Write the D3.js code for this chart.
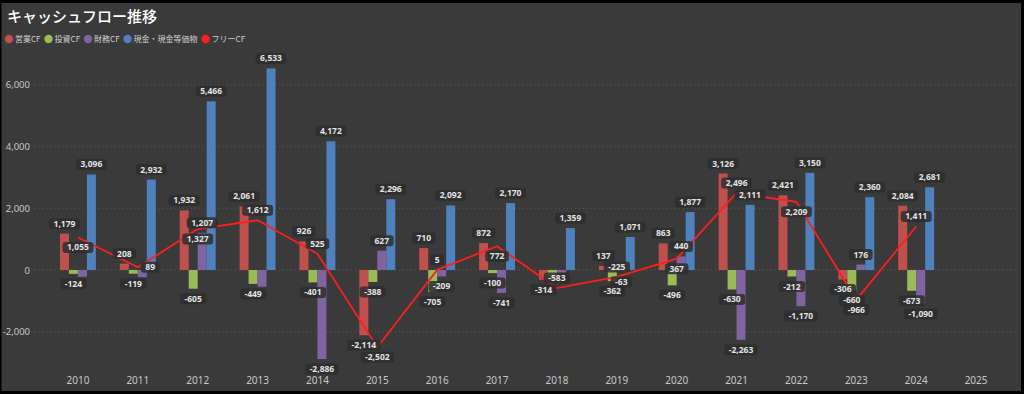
<!DOCTYPE html>
<html>
<head>
<meta charset="utf-8">
<script src="https://cdn.jsdelivr.net/npm/d3@7"></script>
<style>
  html, body { margin: 0; padding: 0; background: #000; }
  #svg-container { width: 1024px; height: 394px; }
  text { font-family: "Noto Sans CJK JP", "Noto Sans", sans-serif; }
</style>
</head>
<body>
<div id="svg-container"></div>
<script>
//////////////////////////////  Data  //////////////////////////////
const years = ["2010", "2011", "2012", "2013", "2014", "2015", "2016", "2017",
  "2018", "2019", "2020", "2021", "2022", "2023", "2024", "2025"];
const opCF = [1179, 208, 1932, 2061, 926, -2114, 710, 872, -314, 137, 863, 3126, 2421, -306, 2084, null];
const invCF = [-124, -119, -605, -449, -401, -388, -705, -100, -269, -362, -496, -630, -212, -660, -673, null];
const finCF = [-220, -230, 1207, -540, -2886, 627, -209, -741, -90, -63, 440, -2263, -1170, 176, -1090, null];
const cash = [3096, 2932, 5466, 6533, 4172, 2296, 2092, 2170, 1359, 1071, 1877, 2111, 3150, 2360, 2681, null];
const freeCF = [1055, 89, 1327, 1612, 525, -2502, 5, 772, -583, -225, 367, 2496, 2209, -966, 1411, null];
const yTicks = [-2000, 0, 2000, 4000, 6000];

const barSeries = [
  { key: "op", name: "営業CF", values: opCF, color: "#C0504D" },
  { key: "inv", name: "投資CF", values: invCF, color: "#9BBB59" },
  { key: "fin", name: "財務CF", values: finCF, color: "#8064A2" },
  { key: "cash", name: "現金・現金等価物", values: cash, color: "#4F81BD" },
];
const lineSeries = { name: "フリーCF", values: freeCF, color: "#FF1E1E" };

//////////////////////////////  Init  //////////////////////////////
const width = 1024;
const height = 394;
const margin = { top: 54, right: 18, bottom: 31, left: 48 };

const svg = d3.select("#svg-container").append("svg")
  .attr("width", width).attr("height", height);

const fmt = d3.formatLocale({ decimal: ".", thousands: ",", grouping: [3], currency: ["", ""], minus: "-" }).format(",");

// background panel
svg.append("rect")
  .attr("x", 1.5).attr("y", 3).attr("width", 1019.5).attr("height", 388)
  .attr("fill", "#3a3a3a");

// scales
const xScale = d3.scaleBand().domain(years)
  .range([margin.left, width - margin.right])
  .paddingInner(0.4).paddingOuter(0.2);
const xInner = d3.scaleBand().domain(barSeries.map((s) => s.key))
  .range([0, xScale.bandwidth()]);
const yScale = d3.scaleLinear().domain([-3000, 7000])
  .range([height - margin.bottom - 0.4, margin.top]);

// title & legend
svg.append("text").attr("x", 7).attr("y", 22)
  .attr("fill", "#fff").attr("font-size", 15).attr("font-weight", 500)
  .text("キャッシュフロー推移");

const legendItems = barSeries.map((s) => ({ name: s.name, color: s.color }))
  .concat([{ name: lineSeries.name, color: lineSeries.color }]);
let lx = 9;
legendItems.forEach((item) => {
  const g = svg.append("g").attr("transform", `translate(${lx},39)`);
  g.append("circle").attr("r", 4.2).attr("fill", item.color);
  const t = g.append("text").attr("x", 6).attr("y", 3)
    .attr("fill", "#cfcfcf").attr("font-size", 8).text(item.name);
  lx += 6 + t.node().getComputedTextLength() + 8;
});

// grid & axes
svg.append("g").selectAll("line").data(yTicks).join("line")
  .attr("x1", 35).attr("x2", 1018)
  .attr("y1", (d) => yScale(d)).attr("y2", (d) => yScale(d))
  .attr("stroke", "#5a5a5a").attr("stroke-dasharray", "1,3");

const yAxis = svg.append("g")
  .attr("transform", "translate(30,0)")
  .call(d3.axisLeft(yScale).tickValues(yTicks).tickFormat(fmt).tickSize(0).tickPadding(0));
yAxis.select(".domain").remove();
yAxis.selectAll("text").attr("fill", "#c8c8c8").attr("font-size", 9.5)
  .style("font-family", "'Noto Sans', sans-serif");

const xAxis = svg.append("g")
  .attr("transform", `translate(0,${height - 17})`)
  .call(d3.axisBottom(xScale).tickSize(0).tickPadding(0));
xAxis.select(".domain").remove();
xAxis.selectAll("text").attr("fill", "#c8c8c8").attr("font-size", 10)
  .style("font-family", "'Noto Sans', sans-serif");

// bars
const barData = [];
barSeries.forEach((s) => {
  s.values.forEach((v, i) => {
    if (v !== null) barData.push({ key: s.key, year: years[i], value: v, color: s.color });
  });
});

svg.append("g").selectAll("rect").data(barData).join("rect")
  .attr("x", (d) => xScale(d.year) + xInner(d.key))
  .attr("width", xInner.bandwidth())
  .attr("y", (d) => yScale(Math.max(0, d.value)))
  .attr("height", (d) => Math.abs(yScale(d.value) - yScale(0)))
  .attr("fill", (d) => d.color);

// free CF line
const lineData = freeCF.map((v, i) => ({ year: years[i], value: v })).filter((d) => d.value !== null);
const line = d3.line()
  .x((d) => xScale(d.year) + xScale.bandwidth() / 2)
  .y((d) => yScale(d.value));
svg.append("path").datum(lineData)
  .attr("d", line).attr("fill", "none")
  .attr("stroke", lineSeries.color).attr("stroke-width", 1.8);

//////////////////////////////  Labels  //////////////////////////////
const labelLayer = svg.append("g");
const placed = [];
const boxH = 11;

function overlaps(b) {
  return placed.some((p) => {
    const ox = Math.min(b.x2, p.x2) - Math.max(b.x1, p.x1);
    const oy = Math.min(b.y2, p.y2) - Math.max(b.y1, p.y1);
    return ox > 2 && oy > 2;
  });
}

function makeLabel(txt) {
  const g = labelLayer.append("g");
  const r = g.append("rect").attr("rx", 3).attr("fill", "#2e2e2e").attr("fill-opacity", 0.85);
  const t = g.append("text").attr("text-anchor", "middle").attr("dy", "0.35em")
    .attr("fill", "#e2e2e2").attr("font-size", 8.5).attr("font-weight", "bold")
    .style("font-family", "'Noto Sans', sans-serif").text(txt);
  const w = t.node().getComputedTextLength() + 9;
  r.attr("x", -w / 2).attr("y", -boxH / 2).attr("width", w).attr("height", boxH);
  return { g, w };
}

function tryPlace(lbl, candidates) {
  for (const c of candidates) {
    const b = { x1: c[0] - lbl.w / 2, x2: c[0] + lbl.w / 2, y1: c[1] - boxH / 2, y2: c[1] + boxH / 2 };
    if (!overlaps(b)) {
      placed.push(b);
      lbl.g.attr("transform", `translate(${c[0]},${c[1]})`);
      return true;
    }
  }
  lbl.g.remove();
  return false;
}

// bar labels, series by series
barSeries.forEach((s) => {
  s.values.forEach((v, i) => {
    if (v === null) return;
    const cx = xScale(years[i]) + xInner(s.key) + xInner.bandwidth() / 2;
    const cy = v >= 0 ? yScale(v) - 10 : yScale(v) + 10;
    tryPlace(makeLabel(fmt(v)), [[cx, cy]]);
  });
});

// line labels: above, below, right
lineData.forEach((d) => {
  const px = xScale(d.year) + xScale.bandwidth() / 2;
  const py = yScale(d.value);
  const lbl = makeLabel(fmt(d.value));
  tryPlace(lbl, [[px, py - 10], [px, py + 10], [px + lbl.w / 2 + 3, py]]);
});
</script>
</body>
</html>
